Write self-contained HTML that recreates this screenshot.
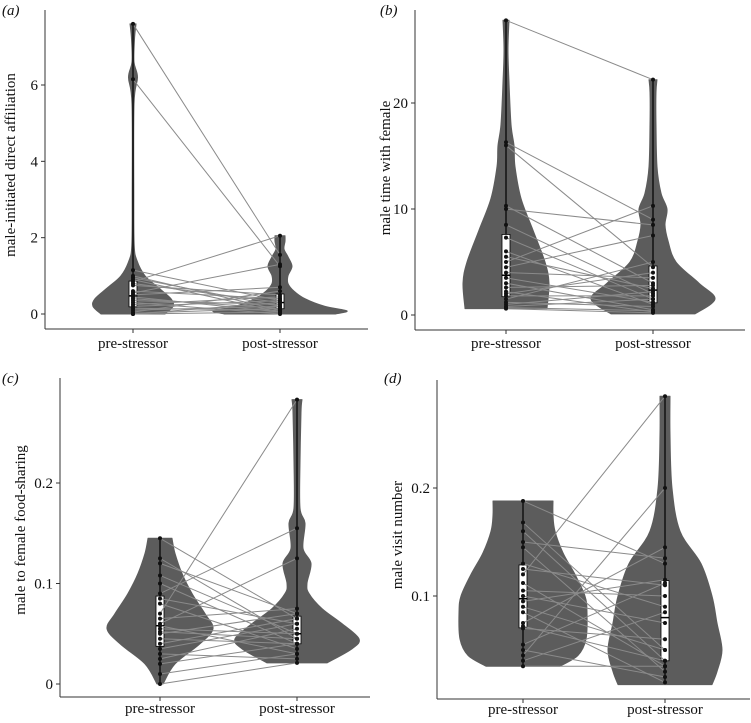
<!DOCTYPE html>
<html><head><meta charset="utf-8"><style>
html,body{margin:0;padding:0;background:#fff;}
svg{display:block;font-family:"Liberation Serif","Times New Roman",serif;}
text{font-family:"Liberation Serif","Times New Roman",serif;}
</style></head><body>
<svg id="chart" width="751" height="723" viewBox="0 0 751 723"></svg>
<script>
const categories = ["pre-stressor","post-stressor"];
// panel (a)
const aTicks = [0,2,4,6];
const aPre = [7.6,6.15,1.15,1.0,0.95,0.9,0.85,0.8,0.75,0.6,0.55,0.5,0.45,0.4,0.35,0.3,0.25,0.2,0.15,0.1,0.05,0.02,0,0];
const aPost = [1.55,1.25,0.35,0.1,0.2,0.05,2.05,0.3,0.5,0.4,1.3,0.7,0.05,0.15,0.25,0.0,0.45,0.35,0.1,0.2,0.6,0.15,0.05,0.3];
const aPreDens = [[0,32],[0.2,40],[0.4,38],[0.7,25],[1.0,12],[1.4,4],[1.8,1.2],[3,0.8],[5.5,1],[6.2,4.5],[6.6,1],[7.2,1.5],[7.6,3]];
const aPostDens = [[0,55],[0.08,67],[0.2,45],[0.4,25],[0.6,14],[0.8,8],[1.0,8],[1.25,12],[1.5,8],[1.7,4],[1.9,5],[2.05,5]];
// panel (b)
const bTicks = [0,10,20];
const bPre = [27.8,16.3,16,10.3,10,8.5,7.3,6,5.5,5,4.5,4,3.5,3,2.6,2.2,2,1.8,1.5,1.2,1,0.8,0.6,0.7];
const bPost = [22.2,9,4.5,3,8.5,2,1.5,1,2.5,10.3,7.5,3.5,1.2,0.5,2.8,0.3,4,1.8,5,0.8,2.2,1.5,0.2,0.4];
const bPreDens = [[0.6,41],[3,43],[5,39],[8,27],[11,15],[14,9],[16,8],[18,5],[22,3],[25,2],[27.8,3]];
const bPostDens = [[0.1,42],[1.5,62],[3,46],[5,23],[7,15],[8.5,12],[10,14],[11.5,8],[14,4],[18,3],[21,3],[22.2,4]];
// panel (c)
const cTicks = [0,0.1,0.2];
const cPre = [0.145,0.125,0.12,0.108,0.1,0.09,0.085,0.08,0.07,0.065,0.06,0.058,0.055,0.052,0.05,0.045,0.04,0.035,0.03,0.025,0.02,0.01,0];
const cPost = [0.065,0.045,0.07,0.05,0.04,0.155,0.06,0.035,0.283,0.075,0.125,0.03,0.05,0.045,0.07,0.04,0.065,0.06,0.025,0.055,0.04,0.03,0.021];
const cPreDens = [[0,3],[0.02,15],[0.04,40],[0.055,53],[0.07,45],[0.09,32],[0.11,22],[0.13,15],[0.145,12]];
const cPostDens = [[0.021,30],[0.035,55],[0.045,62],[0.06,45],[0.075,25],[0.09,12],[0.1,10],[0.12,14],[0.135,6],[0.16,8],[0.175,3],[0.22,3],[0.27,4],[0.283,5]];
// panel (d)
const dTicks = [0.1,0.2];
const dPre = [0.188,0.168,0.16,0.15,0.145,0.13,0.125,0.12,0.112,0.105,0.1,0.095,0.09,0.085,0.075,0.072,0.07,0.055,0.05,0.045,0.04,0.035];
const dPost = [0.13,0.05,0.04,0.135,0.03,0.09,0.11,0.285,0.035,0.1,0.075,0.115,0.05,0.02,0.145,0.04,0.06,0.112,0.025,0.2,0.085,0.035];
const dPreDens = [[0.035,37],[0.045,55],[0.06,63],[0.085,64],[0.1,62],[0.12,52],[0.14,40],[0.16,32],[0.175,30],[0.188,30]];
const dPostDens = [[0.018,47],[0.03,52],[0.05,57],[0.075,52],[0.1,47],[0.13,36],[0.16,15],[0.2,7],[0.25,5],[0.285,5]];

const NS="http://www.w3.org/2000/svg";
const FONT='"Liberation Serif","Times New Roman",serif';
const svg=document.getElementById('chart');
function mk(tag,attrs,parent){const e=document.createElementNS(NS,tag);for(const k in attrs)e.setAttribute(k,attrs[k]);(parent||svg).appendChild(e);return e;}
function quant(arr,q){const s=[...arr].sort((a,b)=>a-b);const p=(s.length-1)*q;const l=Math.floor(p),h=Math.ceil(p);return s[l]+(s[h]-s[l])*(p-l);}
function smooth(pts){
  let d='';
  for(let i=0;i<pts.length-1;i++){
    const p0=pts[Math.max(0,i-1)],p1=pts[i],p2=pts[i+1],p3=pts[Math.min(pts.length-1,i+2)];
    const c1=[p1[0]+(p2[0]-p0[0])/6,p1[1]+(p2[1]-p0[1])/6];
    const c2=[p2[0]-(p3[0]-p1[0])/6,p2[1]-(p3[1]-p1[1])/6];
    d+=` C${c1[0].toFixed(1)},${c1[1].toFixed(1)} ${c2[0].toFixed(1)},${c2[1].toFixed(1)} ${p2[0].toFixed(1)},${p2[1].toFixed(1)}`;
  }
  return d;
}

function panel(o){
  const g=mk('g',{});
  
  
  const y=v=>o.y0+(v-o.v0)*(o.y1-o.y0)/(o.v1-o.v0);
  const xs=[o.xPre,o.xPost];
  [o.preD,o.postD].forEach((d,i)=>{
    const left=d.map(p=>[xs[i]-p[1],y(p[0])]);
    const right=d.map(p=>[xs[i]+p[1],y(p[0])]).reverse();
    let path='M'+left[0][0].toFixed(1)+','+left[0][1].toFixed(1)+smooth(left)+' L'+right[0][0].toFixed(1)+','+right[0][1].toFixed(1)+smooth(right)+'Z';
    const v=mk('path',{d:path,fill:'#5c5c5c',stroke:'#5c5c5c','stroke-width':1,'stroke-linejoin':'round'},g);
    
    
  });
  [o.pre,o.post].forEach((d,i)=>{
    const mn=Math.min(...d),mx=Math.max(...d),q1=quant(d,0.25),q3=quant(d,0.75),md=quant(d,0.5);
    const w=mk('line',{x1:xs[i],x2:xs[i],y1:y(mn),y2:y(mx),stroke:'#000','stroke-width':1.2},g);
    
    
    const b=mk('rect',{x:xs[i]-4,y:y(q3),width:8,height:Math.max(1,y(q1)-y(q3)),fill:'#fff',stroke:'#000','stroke-width':0.8},g);
    
    
    const m=mk('line',{x1:xs[i]-4,x2:xs[i]+4,y1:y(md),y2:y(md),stroke:'#000','stroke-width':1.5},g);
    
    
  });
  o.pre.forEach((v,i)=>{
    const l=mk('line',{x1:xs[0],y1:y(v),x2:xs[1],y2:y(o.post[i]),stroke:'#8a8a8a','stroke-width':1},g);
    
    
  });
  [o.pre,o.post].forEach((d,i)=>{
    d.forEach(v=>{
      const c=mk('circle',{cx:xs[i],cy:y(v),r:2,fill:'#111'},g);
      
      
    });
  });
  const ya=mk('line',{x1:o.ax,x2:o.ax,y1:o.top,y2:o.bot,stroke:'#333','stroke-width':1},g);
  
  
  const xa=mk('line',{x1:o.ax,x2:o.right,y1:o.bot,y2:o.bot,stroke:'#333','stroke-width':1},g);
  
  
  o.ticks.forEach(t=>{
    mk('line',{x1:o.ax-4,x2:o.ax,y1:y(t),y2:y(t),stroke:'#333'},g);
    const tx=mk('text',{x:o.ax-7,y:y(t)+5,'text-anchor':'end','font-size':15,fill:'#111','font-family':FONT},g);
    tx.textContent=String(t);
    
    
  });
  categories.forEach((c,i)=>{
    mk('line',{x1:xs[i],x2:xs[i],y1:o.bot,y2:o.bot+4,stroke:'#333'},g);
    const tx=mk('text',{x:xs[i],y:o.bot+o.lo,'text-anchor':'middle','font-size':15,fill:'#111','font-family':FONT},g);
    tx.textContent=c;
    
    
  });
  const ttl=mk('text',{x:o.tx,y:o.ty,'text-anchor':'middle','font-size':15,fill:'#111','font-family':FONT,transform:`rotate(-90 ${o.tx} ${o.ty})`},g);
  ttl.textContent=o.title;
  
  
  const lb=mk('text',{x:o.lx,y:o.ly,'font-size':15,'font-style':'italic',fill:'#111','font-family':FONT},g);
  lb.textContent='('+o.id+')';
  
  
}
panel({id:'a',pre:aPre,post:aPost,preD:aPreDens,postD:aPostDens,ticks:aTicks,v0:0,y0:314,v1:6,y1:85,xPre:133,xPost:280,ax:45,top:10,bot:329,right:368,lo:19,title:'male-initiated direct affiliation',tx:15,ty:165,lx:2,ly:15});
panel({id:'b',pre:bPre,post:bPost,preD:bPreDens,postD:bPostDens,ticks:bTicks,v0:0,y0:315,v1:20,y1:103,xPre:506,xPost:653,ax:415,top:10,bot:330,right:745,lo:18,title:'male time with female',tx:390,ty:168,lx:380,ly:15});
panel({id:'c',pre:cPre,post:cPost,preD:cPreDens,postD:cPostDens,ticks:cTicks,v0:0,y0:684,v1:0.2,y1:483,xPre:160,xPost:297,ax:60,top:378,bot:697,right:370,lo:16,title:'male to female food-sharing',tx:25,ty:530,lx:2,ly:383});
panel({id:'d',pre:dPre,post:dPost,preD:dPreDens,postD:dPostDens,ticks:dTicks,v0:0.1,y0:596,v1:0.2,y1:488,xPre:523,xPost:665,ax:437,top:380,bot:699,right:750,lo:15,title:'male visit number',tx:402,ty:535,lx:384,ly:383});
</script>
</body></html>
